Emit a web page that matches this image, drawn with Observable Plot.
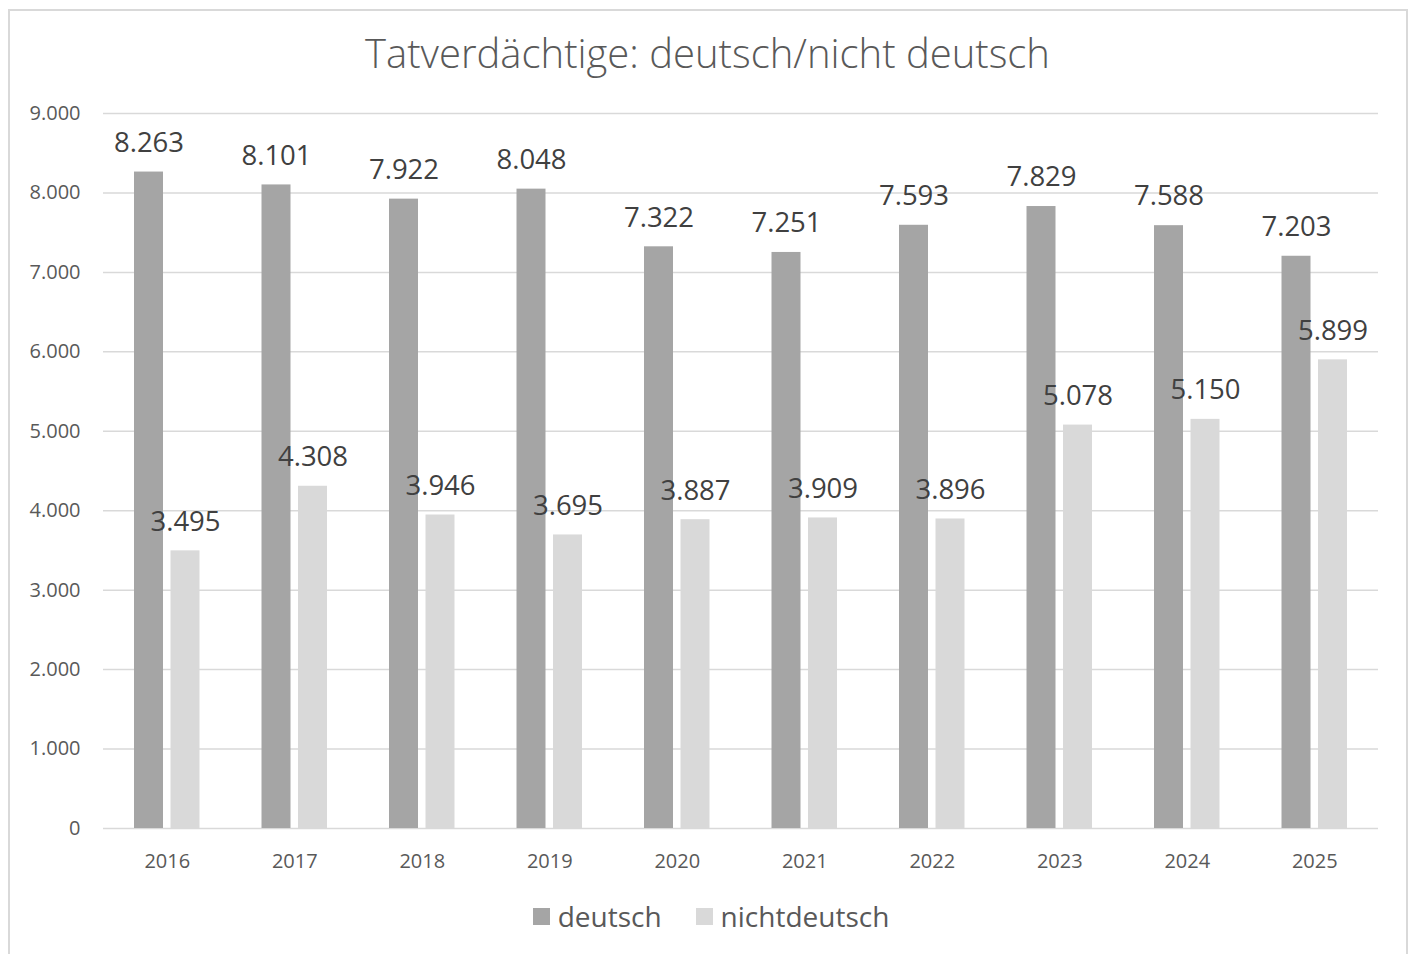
<!DOCTYPE html>
<html>
<head>
<meta charset="utf-8">
<script src="https://cdn.jsdelivr.net/npm/d3@7"></script>
<script src="https://cdn.jsdelivr.net/npm/@observablehq/plot@0.6"></script>
<style>
  html, body { margin: 0; padding: 0; background: #fff; width: 1410px; height: 954px; overflow: hidden; }
  body { position: relative; font-family: "Open Sans", "Noto Sans", sans-serif; }
  #frame { position: absolute; left: 8px; top: 9px; width: 1400px; height: 980px; border: 2px solid #d9d9d9; box-sizing: border-box; }
  #title { position: absolute; left: 0; top: 33px; width: 1415px; text-align: center; font-size: 40px; font-weight: 300; line-height: 1; color: #595959; }
  #chart { position: absolute; left: 0; top: 80px; }
  #legend { position: absolute; left: 0; top: 896px; width: 1422px; display: flex; justify-content: center; align-items: center; font-size: 28px; color: #595959; line-height: 40px; }
  .item { display: flex; align-items: center; margin: 0 17px; }
  .sw { width: 17px; height: 17px; margin-right: 8px; }
</style>
</head>
<body>
<div id="frame"></div>
<div id="title">Tatverdächtige: deutsch/nicht deutsch</div>
<div id="chart"></div>
<div id="legend"></div>
<script>
const years = ["2016", "2017", "2018", "2019", "2020", "2021", "2022", "2023", "2024", "2025"];
const deutsch = [8263, 8101, 7922, 8048, 7322, 7251, 7593, 7829, 7588, 7203];
const nichtdeutsch = [3495, 4308, 3946, 3695, 3887, 3909, 3896, 5078, 5150, 5899];
const yTicks = [0, 1000, 2000, 3000, 4000, 5000, 6000, 7000, 8000, 9000];
const seriesNames = ["deutsch", "nichtdeutsch"];
const seriesColors = ["#a5a5a5", "#d9d9d9"];

const de = d3.formatLocale({decimal: ",", thousands: ".", grouping: [3], currency: ["", " €"]});
const fmt = de.format(",");

const rowsD = years.map((y, i) => ({year: y, value: deutsch[i]}));
const rowsN = years.map((y, i) => ({year: y, value: nichtdeutsch[i]}));

const plot = Plot.plot({
  width: 1410,
  height: 800,
  marginLeft: 103,
  marginRight: 32,
  marginTop: 33,
  marginBottom: 52,
  style: {fontFamily: "'Open Sans', 'Noto Sans', sans-serif", background: "transparent", overflow: "visible"},
  x: {type: "band", domain: years, padding: 0, round: false, label: null},
  y: {domain: [0, 9000], label: null},
  marks: [
    Plot.ruleY(yTicks, {stroke: "#d9d9d9", strokeWidth: 1.5}),
    Plot.axisY({ticks: yTicks, tickSize: 0, tickPadding: 23, tickFormat: fmt, fontSize: 20, color: "#595959", label: null}),
    Plot.axisX({tickSize: 0, tickPadding: 25, fontSize: 20, color: "#595959", label: null}),
    Plot.barY(rowsD, {x: "year", y: "value", fill: seriesColors[0], insetLeft: 31, insetRight: 67.5}),
    Plot.barY(rowsN, {x: "year", y: "value", fill: seriesColors[1], insetLeft: 67.5, insetRight: 31}),
    Plot.text(rowsD, {x: "year", y: "value", text: d => fmt(d.value), dx: -18.25, dy: -29, fontSize: 27.5, fill: "#404040", lineAnchor: "middle"}),
    Plot.text(rowsN, {x: "year", y: "value", text: d => fmt(d.value), dx: 18.25, dy: -29, fontSize: 27.5, fill: "#404040", lineAnchor: "middle"})
  ]
});
document.getElementById("chart").appendChild(plot);

const legend = document.getElementById("legend");
seriesNames.forEach((name, i) => {
  const item = document.createElement("div");
  item.className = "item";
  const sw = document.createElement("div");
  sw.className = "sw";
  sw.style.background = seriesColors[i];
  const label = document.createElement("span");
  label.textContent = name;
  item.appendChild(sw);
  item.appendChild(label);
  legend.appendChild(item);
});
</script>
</body>
</html>
